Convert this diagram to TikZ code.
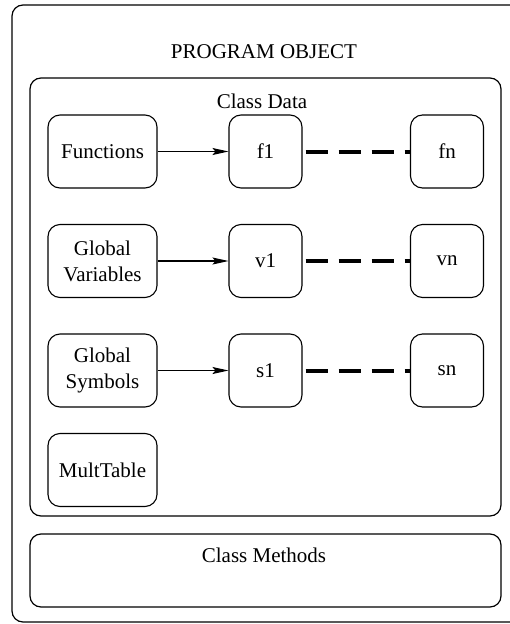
\documentclass[tikz,border=0pt]{standalone}
\usepackage{fontspec}
\setmainfont{Liberation Serif}
\usetikzlibrary{arrows.meta}
\begin{document}
\begin{tikzpicture}[x=1pt,y=-1pt,
  every node/.style={font=\fontsize{21}{26}\selectfont, inner sep=0pt, align=center},
  panel/.style={draw, line width=1.2pt, rounded corners=11pt},
  itembox/.style={draw, line width=1.1pt, rounded corners=12pt, minimum height=73pt},
  widebox/.style={itembox, minimum width=109pt},
  narrowbox/.style={itembox, minimum width=73pt},
  link/.style={line width=1.1pt, -{Stealth[length=16pt,width=7pt,inset=3pt]}},
  chain/.style={line width=4pt, dash pattern=on 22pt off 11pt, dash phase=-3pt}
]
\useasboundingbox (0,0) rectangle (509,624);

% containers
\node[panel, minimum width=540pt, minimum height=617pt] (program) at (282,313.5) {};
\node[panel, minimum width=471pt, minimum height=438pt] (classdata) at (265.5,297) {};
\node[panel, minimum width=471pt, minimum height=73pt] (methods) at (265.5,570.5) {};

% titles
\node (progtitle) at (264,52) {PROGRAM OBJECT};
\node (datatitle) at (262,101) {Class Data};
\node (methtitle) at (264,555) {Class Methods};

% rows
\node[widebox] (functions) at (102.5,151.5) {Functions};
\node[narrowbox] (f1) at (265.5,151.5) {f1};
\node[narrowbox] (fn) at (447,151.5) {fn};

\node[widebox] (globvars) at (102.5,261) {Global\\Variables};
\node[narrowbox] (v1) at (265.5,261) {v1};
\node[narrowbox] (vn) at (447,261) {vn};

\node[widebox] (globsyms) at (102.5,370.5) {Global\\Symbols};
\node[narrowbox] (s1) at (265.5,370.5) {s1};
\node[narrowbox] (sn) at (447,370.5) {sn};

\node[widebox] (multtable) at (102.5,470) {MultTable};

% connectors
\draw[link] (functions) -- (f1);
\draw[link] (globvars) -- (v1);
\draw[link] (globsyms) -- (s1);
\draw[chain] (f1) -- (fn);
\draw[chain] (v1) -- (vn);
\draw[chain] (s1) -- (sn);
\end{tikzpicture}
\end{document}
